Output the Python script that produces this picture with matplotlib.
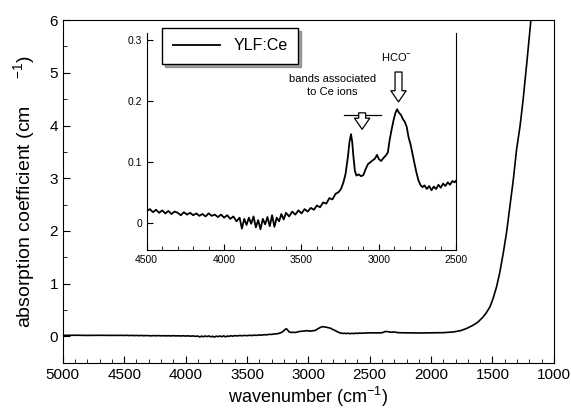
import matplotlib
matplotlib.use("Agg")
import matplotlib.pyplot as plt
import numpy as np
from matplotlib.ticker import MultipleLocator

plt.rcParams["font.family"] = ["Liberation Sans", "DejaVu Sans"]
plt.rcParams["mathtext.fontset"] = "custom"
plt.rcParams["mathtext.rm"] = "Liberation Sans"

# ---- data ----
# low-wavenumber head of the spectrum (main panel only)
head_wn = [5000, 4900, 4800, 4700, 4600, 4520]
head_abs = [0.021, 0.023, 0.020, 0.022, 0.020, 0.021]

# region shown in the inset (4500 - 2500 cm-1)
inset_wn = [4500, 4480, 4460, 4440, 4420, 4400, 4380, 4360, 4340, 4320,
            4300, 4280, 4260, 4240, 4220, 4200, 4180, 4160, 4140, 4120,
            4100, 4080, 4060, 4040, 4020, 4000, 3980, 3960, 3940, 3920,
            3900, 3885, 3870, 3855, 3840, 3825, 3810, 3795, 3780, 3765,
            3750, 3735, 3720, 3705, 3690, 3675, 3660, 3645, 3630, 3615,
            3600, 3580, 3560, 3540, 3520, 3500, 3480, 3460, 3440, 3420,
            3400, 3380, 3360, 3340, 3320, 3300, 3280, 3260, 3245, 3230,
            3215, 3200, 3190, 3180, 3172, 3165, 3155, 3145, 3130, 3115,
            3100, 3085, 3070, 3055, 3040, 3025, 3012, 3000, 2985, 2970,
            2955, 2942, 2930, 2918, 2905, 2893, 2882, 2870, 2858, 2845,
            2832, 2820, 2808, 2795, 2782, 2770, 2758, 2745, 2732, 2718,
            2705, 2690, 2675, 2660, 2645, 2630, 2615, 2600, 2585, 2570,
            2555, 2540, 2525, 2510, 2500]
inset_abs = [0.019, 0.022, 0.017, 0.021, 0.016, 0.020, 0.015, 0.019, 0.014, 0.018,
             0.016, 0.012, 0.017, 0.013, 0.016, 0.012, 0.015, 0.011, 0.014, 0.010,
             0.015, 0.011, 0.013, 0.009, 0.013, 0.008, 0.012, 0.006, 0.010, 0.002,
             0.008, -0.010, 0.006, -0.004, 0.008, -0.002, 0.010, -0.008, 0.004, -0.011,
             0.006, -0.003, 0.009, -0.006, 0.012, -0.007, 0.008, 0.002, 0.014, 0.005,
             0.016, 0.010, 0.018, 0.013, 0.020, 0.015, 0.022, 0.018, 0.024, 0.021,
             0.028, 0.025, 0.033, 0.031, 0.040, 0.038, 0.047, 0.050, 0.055, 0.065,
             0.080, 0.108, 0.132, 0.145, 0.132, 0.110, 0.085, 0.077, 0.079, 0.076,
             0.078, 0.088, 0.096, 0.099, 0.102, 0.105, 0.111, 0.104, 0.101, 0.106,
             0.110, 0.115, 0.136, 0.152, 0.168, 0.180, 0.186, 0.180, 0.177, 0.170,
             0.165, 0.157, 0.140, 0.128, 0.112, 0.097, 0.083, 0.070, 0.062, 0.058,
             0.061, 0.055, 0.060, 0.053, 0.059, 0.055, 0.062, 0.057, 0.064, 0.060,
             0.066, 0.062, 0.068, 0.066, 0.069]

# high-wavenumber tail with the absorption edge (main panel only)
tail_wn = [2450, 2400, 2370, 2350, 2330, 2300, 2280, 2250, 2200, 2100,
           2000, 1900, 1820, 1760, 1712, 1660, 1620, 1580, 1550, 1521,
           1495, 1467, 1440, 1413, 1385, 1359, 1330, 1304, 1275, 1250,
           1220, 1187, 1170]
tail_abs = [0.068, 0.070, 0.095, 0.090, 0.080, 0.085, 0.075, 0.070, 0.068, 0.066,
            0.068, 0.072, 0.085, 0.110, 0.150, 0.210, 0.270, 0.360, 0.450, 0.560,
            0.720, 0.940, 1.220, 1.570, 1.980, 2.460, 2.980, 3.540, 4.000, 4.500,
            5.200, 6.000, 6.500]

main_wn = np.concatenate([head_wn, inset_wn, tail_wn])
main_abs = np.concatenate([head_abs, inset_abs, tail_abs])

fig = plt.figure(figsize=(5.71, 4.18), dpi=100)
ax = fig.add_axes([0.110, 0.132, 0.860, 0.820])
ax.plot(main_wn, main_abs, color="black", lw=1.2)
ax.set_xlim(5000, 1000)
ax.set_ylim(-0.5, 6)
ax.xaxis.set_major_locator(MultipleLocator(500))
ax.xaxis.set_minor_locator(MultipleLocator(100))
ax.yaxis.set_major_locator(MultipleLocator(1))
ax.yaxis.set_minor_locator(MultipleLocator(0.5))
ax.tick_params(which="both", direction="in", top=False, right=False,
               labelsize=11)
ax.tick_params(which="major", length=5)
ax.tick_params(which="minor", length=3)
ax.set_xlabel("wavenumber (cm$^{-1}$)", fontsize=13, labelpad=2)
ax.set_ylabel("absorption coefficient (cm     $^{-1}$)", fontsize=14, labelpad=8)

# ---- inset ----
ins = fig.add_axes([0.257, 0.402, 0.542, 0.519])
ins.plot(inset_wn, inset_abs, color="black", lw=1.3, label="YLF:Ce")
ins.set_xlim(4500, 2500)
ins.set_ylim(-0.045, 0.311)
ins.spines["top"].set_visible(False)
ins.xaxis.set_major_locator(MultipleLocator(500))
ins.xaxis.set_minor_locator(MultipleLocator(100))
ins.set_yticks([0, 0.1, 0.2, 0.3])
ins.set_yticklabels(["0", "0.1", "0.2", "0.3"])
ins.tick_params(which="both", direction="in", top=False, right=False,
                labelsize=7.5)
ins.tick_params(which="major", length=4)
ins.tick_params(which="minor", length=3)

leg = ins.legend(loc="upper left", bbox_to_anchor=(0.284, 0.933),
                 bbox_transform=fig.transFigure, fancybox=False, shadow=True,
                 fontsize=11.5, handlelength=3.0, edgecolor="black",
                 borderpad=0.65, borderaxespad=0)
leg.get_frame().set_linewidth(1.0)

ins.text(3300, 0.225, "bands associated\nto Ce ions", fontsize=8,
         ha="center", va="center", linespacing=1.3)
ins.plot([3224, 2984], [0.177, 0.177], color="black", lw=0.9)
arrow = dict(arrowstyle="simple,head_width=1.1,head_length=0.8,tail_width=0.5",
             fc="white", ec="black", lw=0.9, shrinkA=0, shrinkB=0)
ins.annotate("", xy=(3108, 0.153), xytext=(3108, 0.180), arrowprops=arrow)
ins.text(2887, 0.272, "HCO$^{-}$", fontsize=8, ha="center", va="center")
ins.annotate("", xy=(2873, 0.198), xytext=(2873, 0.247), arrowprops=arrow)

fig.savefig("out.png", dpi=100)
